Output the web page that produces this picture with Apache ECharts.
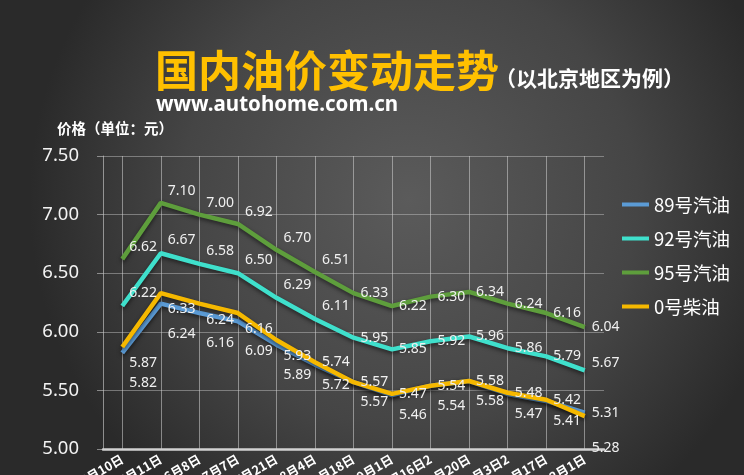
<!DOCTYPE html>
<html><head><meta charset="utf-8">
<script src="https://cdn.jsdelivr.net/npm/echarts@6/dist/echarts.min.js"></script>
<style>html,body{margin:0;padding:0;background:#333;}#c{width:744px;height:475px;}</style>
</head><body><div id="c"></div>
<script>
const categories = ['4月10日','5月11日','6月8日','7月7日','7月21日','8月4日','8月18日','9月1日','9月16日2','10月20日','11月3日2','11月17日','12月1日'];
const seriesNames = ['89号汽油','92号汽油','95号汽油','0号柴油'];
const gas89  = [5.82,6.24,6.16,6.09,5.89,5.72,5.57,5.46,5.54,5.58,5.47,5.41,5.31];
const gas92  = [6.22,6.67,6.58,6.50,6.29,6.11,5.95,5.85,5.92,5.96,5.86,5.79,5.67];
const gas95  = [6.62,7.10,7.00,6.92,6.70,6.51,6.33,6.22,6.30,6.34,6.24,6.16,6.04];
const diesel0 = [5.87,6.33,6.24,6.16,5.93,5.74,5.57,5.47,5.54,5.58,5.48,5.42,5.28];
const yMin = 5.0, yMax = 7.5, yStep = 0.5;

const colors = ['#5b9bd5','#3fe0cc','#5e9e3c','#f5b800'];
// label vertical offsets: [early, late, last], split index
const labelRules = [
  {early: 30, late: 20, last: 0, split: 4},
  {early: -13, late: 0, last: -7, split: 5},
  {early: -12, late: 0, last: 0, split: 5},
  {early: 16, late: 0, last: 32, split: 4}
];
const values = [gas89, gas92, gas95, diesel0];

function makeSeries(k) {
  const r = labelRules[k];
  const n = values[k].length;
  return {
    name: seriesNames[k],
    type: 'line',
    symbol: 'circle',
    symbolSize: 0,
    showSymbol: true,
    smooth: false,
    lineStyle: {width: 4.5, color: colors[k], shadowColor: 'rgba(0,0,0,0.55)', shadowBlur: 4, shadowOffsetY: 2},
    itemStyle: {color: colors[k]},
    label: {
      show: true, position: 'right', distance: 7,
      color: '#f0f0f0', fontSize: 14, fontFamily: 'Noto Sans',
      formatter: p => Number(p.value).toFixed(2)
    },
    data: values[k].map((v, i) => ({
      value: v,
      label: {offset: [0, i === n - 1 ? r.last : (i <= r.split ? r.early : r.late)]}
    }))
  };
}

const chart = echarts.init(document.getElementById('c'), null, {renderer: 'canvas'});
chart.setOption({
  backgroundColor: {
    type: 'radial', x: 0.55, y: 0.42, r: 0.8,
    colorStops: [{offset: 0, color: '#5b5b5b'}, {offset: 0.6, color: '#454545'}, {offset: 1, color: '#2a2a2a'}]
  },
  animation: false,
  title: [
    {text: '国内油价变动走势', left: 155, top: 49, padding: 0,
     textStyle: {color: '#ffc000', fontSize: 43, fontWeight: 'bold', fontFamily: 'Noto Sans CJK SC'}},
    {text: '（以北京地区为例）', left: 495, top: 68, padding: 0,
     textStyle: {color: '#ffffff', fontSize: 21, fontWeight: 'bold', fontFamily: 'Noto Sans CJK SC'}},
    {text: 'www.autohome.com.cn', left: 156, top: 95, padding: 0,
     textStyle: {color: '#ffffff', fontSize: 20.5, fontWeight: 'bold', fontFamily: 'Noto Sans'}},
    {text: '{a|价格}{b|（单位：元）}', left: 57, top: 121, padding: 0,
     textStyle: {rich: {
       a: {color: '#ffffff', fontSize: 14.5, fontWeight: 'bold', fontFamily: 'Noto Sans CJK SC'},
       b: {color: '#ffffff', fontSize: 14.5, fontFamily: 'Noto Sans CJK SC'}
     }}}
  ],
  legend: {
    data: seriesNames, orient: 'vertical', left: 617, top: 189,
    icon: 'rect', itemWidth: 27, itemHeight: 4, itemGap: 13,
    textStyle: {color: '#ffffff', fontSize: 18.5, lineHeight: 21, fontFamily: 'Noto Sans CJK SC'}
  },
  grid: {left: 103, right: 140, top: 156, bottom: 26, containLabel: false, outerBoundsMode: 'none'},
  xAxis: {
    type: 'category', data: categories, boundaryGap: true,
    axisLine: {show: true, lineStyle: {color: '#d2d2d2', width: 2.5}},
    axisTick: {show: false},
    splitLine: {show: true, alignWithLabel: true, lineStyle: {color: 'rgba(210,210,210,0.55)', width: 1}},
    axisLabel: {color: '#ffffff', fontSize: 12.5, fontWeight: 'bold', rotate: 30, margin: 9, interval: 0,
                fontFamily: 'Noto Sans CJK SC'}
  },
  yAxis: {
    type: 'value', min: yMin, max: yMax, interval: yStep,
    axisLine: {show: true, lineStyle: {color: 'rgba(210,210,210,0.6)', width: 1}},
    axisTick: {show: true, inside: false, length: 6, lineStyle: {color: 'rgba(200,200,200,0.6)'}},
    splitLine: {show: true, lineStyle: {color: 'rgba(190,190,190,0.5)', width: 1}},
    axisLabel: {color: '#f2f2f2', fontSize: 18.5, margin: 24, fontFamily: 'Noto Sans',
                formatter: v => v.toFixed(2)}
  },
  series: [0, 1, 2, 3].map(makeSeries)
});
</script>
</body></html>
